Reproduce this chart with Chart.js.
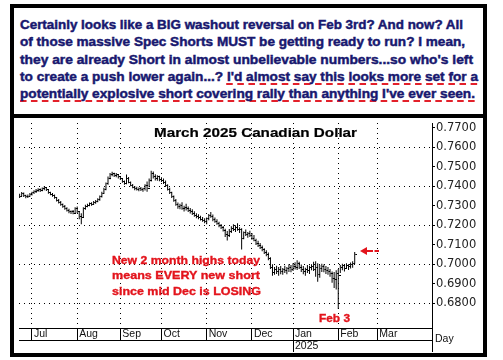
<!DOCTYPE html>
<html><head><meta charset="utf-8">
<script src="https://cdn.jsdelivr.net/npm/chart.js@4/dist/chart.umd.min.js"></script>
<style>
html,body{margin:0;padding:0;background:#fff;width:503px;height:360px;overflow:hidden;position:relative;}
#frame{position:absolute;left:10px;top:4px;width:477px;height:353px;border:4px solid #000;box-sizing:border-box;}
#divider{position:absolute;left:10px;top:114px;width:477px;height:4px;background:#000;}
.t{position:absolute;white-space:nowrap;transform-origin:0 50%;}
.note{font:bold 12.5px "Liberation Sans",Arial,sans-serif;color:#18186f;line-height:16px;-webkit-text-stroke:0.45px #18186f;}
.ul{text-decoration:underline dashed #e3202a;text-decoration-thickness:2px;text-underline-offset:2px;text-decoration-skip-ink:none;}
.red{font:bold 11px "Liberation Sans",Arial,sans-serif;color:#e3141c;line-height:14px;-webkit-text-stroke:0.35px #e3141c;}
.ttl{font:bold 13px "Liberation Sans",Arial,sans-serif;color:#000;line-height:16px;-webkit-text-stroke:0.2px #000;}
.ax{font:10.5px "Liberation Sans",Arial,sans-serif;color:#111;line-height:12px;}
#c{position:absolute;left:14px;top:118px;}
</style></head>
<body>
<div id="frame"></div>
<div id="divider"></div>
<canvas id="c" width="469" height="234"></canvas>

<div class="t note" data-w="443" style="left:20px;top:17px">Certainly looks like a BIG washout reversal on Feb 3rd? And now? All</div>
<div class="t note" data-w="445" style="left:20px;top:34px">of those massive Spec Shorts MUST be getting ready to run? I mean,</div>
<div class="t note" data-w="453" style="left:20px;top:52px">they are already Short in almost unbelievable numbers...so who's left</div>
<div class="t note" data-w="458" style="left:20px;top:69px">to create a push lower again...? <span class="ul">I'd almost say this looks more set for a</span></div>
<div class="t note" data-w="455" style="left:20px;top:86px"><span class="ul">potentially explosive short covering rally than anything I've ever seen.</span></div>

<div class="t ttl" data-w="203" style="left:154px;top:125px">March 2025 Canadian Dollar</div>

<div class="t red" data-w="148" style="left:112px;top:253px">New 2 month highs today</div>
<div class="t red" data-w="148" style="left:112px;top:268px">means EVERY new short</div>
<div class="t red" data-w="149" style="left:112px;top:284px">since mid Dec is LOSING</div>
<div class="t red" data-w="31" style="left:319px;top:311px">Feb 3</div>

<svg style="position:absolute;left:359px;top:245px" width="24" height="12">
<polygon points="1,6 8,2 8,10" fill="#e3141c"/>
<rect x="8" y="5" width="6" height="2" fill="#e3141c"/>
<rect x="15.5" y="5" width="4.5" height="2" fill="#e3141c"/>
</svg>

<div class="t ax" style="left:435px;top:332px">Day</div>

<script>
const highs = [
.7362,.7370,.7368,.7356,.7358,.7366,.7372,.7380,.7386,.7390,
.7388,.7394,.7400,.7396,.7384,.7372,.7366,.7358,.7345,.7334,
.7324,.7312,.7304,.7292,.7284,.7276,.7278,.7292,.7296,.7272,
.7262,.7292,.7305,.7310,.7316,.7318,.7324,.7330,.7338,.7352,
.7372,.7392,.7420,.7450,.7468,.7475,.7470,.7468,.7462,.7452,
.7440,.7430,.7460,.7448,.7425,.7412,.7402,.7398,.7394,.7396,
.7392,.7410,.7425,.7440,.7480,.7476,.7462,.7456,.7454,.7446,
.7440,.7430,.7410,.7392,.7372,.7352,.7334,.7316,.7310,.7318,
.7300,.7310,.7296,.7288,.7282,.7272,.7262,.7256,.7248,.7242,
.7236,.7240,.7258,.7268,.7255,.7240,.7230,.7218,.7206,.7196,
.7182,.7170,.7180,.7195,.7205,.7200,.7210,.7190,.7185,.7168,
.7178,.7165,.7172,.7160,.7150,.7130,.7120,.7108,.7096,.7082,
.7072,.7060,.7035,.7000,.6985,.6992,.6985,.6990,.6980,.6992,
.6985,.7000,.6995,.7005,.7010,.7020,.7012,.6998,.6990,.6982,
.6995,.6992,.7000,.7012,.7015,.7005,.6995,.7002,.6998,.6990,
.6985,.6975,.6962,.6960,.6968,.6975,.6995,.7002,.6998,.7005,
.7000,.7008,.7015,.7062];
const lows = [
.7340,.7348,.7345,.7338,.7340,.7346,.7352,.7360,.7366,.7372,
.7370,.7374,.7380,.7376,.7362,.7354,.7346,.7336,.7322,.7312,
.7300,.7290,.7280,.7270,.7262,.7258,.7256,.7258,.7262,.7230,
.7205,.7238,.7280,.7292,.7298,.7300,.7304,.7310,.7318,.7326,
.7342,.7360,.7380,.7408,.7436,.7452,.7448,.7446,.7440,.7432,
.7418,.7408,.7410,.7415,.7400,.7390,.7380,.7378,.7374,.7376,
.7372,.7378,.7372,.7395,.7425,.7440,.7430,.7428,.7426,.7422,
.7412,.7396,.7378,.7360,.7340,.7320,.7300,.7285,.7282,.7280,
.7270,.7276,.7268,.7260,.7252,.7244,.7236,.7230,.7224,.7218,
.7210,.7205,.7225,.7238,.7220,.7212,.7202,.7190,.7180,.7168,
.7140,.7122,.7140,.7160,.7170,.7165,.7172,.7160,.7075,.7128,
.7145,.7135,.7140,.7125,.7118,.7098,.7088,.7078,.7066,.7052,
.7040,.7020,.6975,.6940,.6945,.6950,.6940,.6948,.6945,.6955,
.6948,.6960,.6958,.6965,.6972,.6970,.6975,.6960,.6948,.6940,
.6955,.6950,.6968,.6965,.6935,.6910,.6930,.6960,.6958,.6950,
.6945,.6935,.6905,.6878,.6870,.6770,.6955,.6968,.6962,.6975,
.6970,.6978,.6982,.7002];
const closes = [
.7350,.7365,.7352,.7345,.7350,.7358,.7368,.7375,.7380,.7384,
.7378,.7388,.7392,.7382,.7368,.7360,.7352,.7340,.7328,.7318,
.7305,.7298,.7286,.7276,.7268,.7270,.7262,.7285,.7268,.7245,
.7240,.7285,.7298,.7302,.7310,.7306,.7318,.7322,.7332,.7345,
.7365,.7385,.7412,.7440,.7460,.7465,.7455,.7460,.7448,.7438,
.7425,.7415,.7440,.7420,.7406,.7396,.7390,.7385,.7388,.7382,
.7386,.7402,.7390,.7432,.7465,.7450,.7442,.7448,.7435,.7430,
.7418,.7402,.7384,.7366,.7346,.7326,.7308,.7295,.7302,.7288,
.7292,.7284,.7276,.7270,.7260,.7250,.7244,.7238,.7230,.7226,
.7218,.7232,.7250,.7244,.7228,.7220,.7210,.7196,.7186,.7175,
.7152,.7145,.7168,.7185,.7178,.7190,.7180,.7176,.7130,.7160,
.7152,.7158,.7148,.7132,.7124,.7105,.7096,.7085,.7074,.7060,
.7048,.7028,.6985,.6958,.6972,.6960,.6975,.6962,.6970,.6968,
.6978,.6985,.6970,.6990,.6982,.7002,.6985,.6972,.6962,.6970,
.6965,.6982,.6990,.6975,.6985,.6945,.6978,.6990,.6975,.6968,
.6962,.6950,.6925,.6920,.6950,.6940,.6985,.6992,.6980,.6995,
.6988,.6998,.7005,.7052];

const monthTickIndex = [6, 28, 49, 69, 91, 113, 133, 155, 174];
const monthLabels = ['Jul','Aug','Sep','Oct','Nov','Dec','Jan','Feb','Mar'];
const yearTickIndex = [133];
const yearLabels = ['2025'];
const priceTicks = [0.68,0.69,0.70,0.71,0.72,0.73,0.74,0.75,0.76,0.77];
const gridPrices = [0.68,0.70,0.72,0.74,0.76];

const X_MIN = -0.3, X_MAX = 200.6;
const Y_MIN = 0.6672, Y_MAX = 0.7725;

// fit overlay text widths
document.querySelectorAll('.t[data-w]').forEach(el => {
  const w = el.getBoundingClientRect().width;
  el.style.transform = 'scaleX(' + (+el.dataset.w / w) + ')';
});

const tickImg = document.createElement('canvas');
tickImg.width = 5; tickImg.height = 1;
const tctx = tickImg.getContext('2d');
tctx.fillStyle = '#000'; tctx.fillRect(3, 0, 2, 1);

const idx = highs.map((_, i) => i);
const axisFont = {family: 'Liberation Sans', size: 10.5};

new Chart(document.getElementById('c'), {
  type: 'bar',
  data: {
    datasets: [
      {type: 'bar', data: idx.map(i => ({x: i, y: [lows[i], highs[i]]})),
       backgroundColor: '#000', borderWidth: 0, barThickness: 1, inflateAmount: 0, grouped: false,
       xAxisID: 'x', yAxisID: 'y'},
      {type: 'scatter', data: idx.map(i => ({x: i, y: closes[i]})),
       pointStyle: tickImg, pointRadius: 3, xAxisID: 'x', yAxisID: 'y'}
    ]
  },
  options: {
    responsive: false, animation: false, events: [],
    devicePixelRatio: 1,
    layout: {padding: 0},
    plugins: {legend: {display: false}, tooltip: {enabled: false}, title: {display: false}},
    scales: {
      x: {
        type: 'linear', position: 'bottom', min: X_MIN, max: X_MAX, offset: false, weight: 0,
        afterBuildTicks: s => { s.ticks = monthTickIndex.concat([X_MAX]).map(v => ({value: v})); },
        ticks: {autoSkip: false, maxRotation: 0, minRotation: 0, align: 'start', labelOffset: 2,
                padding: -12, font: axisFont, color: '#111',
                callback: (v, i) => monthLabels[i] !== undefined ? monthLabels[i] : ''},
        grid: {offset: false, lineWidth: 1, tickLength: 12, tickColor: '#000', drawTicks: true,
               color: ctx => (ctx.tick && ctx.tick.value === X_MAX) ? 'rgba(0,0,0,0)' : '#000'},
        border: {display: true, color: '#000', width: 1, dash: [1, 4]},
        afterFit: s => { s.height = 12; s.paddingLeft = 0; s.paddingRight = 0; }
      },
      x2: {
        type: 'linear', position: 'bottom', min: X_MIN, max: X_MAX, offset: false, weight: 1,
        afterBuildTicks: s => { s.ticks = yearTickIndex.concat([X_MAX]).map(v => ({value: v})); },
        ticks: {autoSkip: false, maxRotation: 0, minRotation: 0, align: 'start', labelOffset: 2,
                padding: -12, font: axisFont, color: '#111',
                callback: (v, i) => yearLabels[i] !== undefined ? yearLabels[i] : ''},
        grid: {offset: false, drawOnChartArea: false, lineWidth: 1, tickLength: 12, tickColor: '#000', color: '#000'},
        border: {display: true, color: '#000', width: 1},
        afterFit: s => { s.height = 12; s.paddingLeft = 0; s.paddingRight = 0; }
      },
      y: {
        type: 'linear', position: 'right', min: Y_MIN, max: Y_MAX,
        afterBuildTicks: s => { s.ticks = priceTicks.map(v => ({value: v})); },
        ticks: {autoSkip: false, padding: 1, font: {family: 'DejaVu Sans', size: 11.5}, color: '#222',
                callback: v => v.toFixed(4)},
        grid: {lineWidth: 1, tickLength: 3, tickColor: '#000',
               color: ctx => (ctx.tick && gridPrices.some(g => Math.abs(g - ctx.tick.value) < 1e-6)) ? '#000' : 'rgba(0,0,0,0)'},
        border: {display: true, color: '#000', width: 1, dash: [1, 4]},
        afterFit: s => { s.width = 51; s.paddingTop = 0; s.paddingBottom = 0; }
      }
    }
  }
});
</script>
</body></html>
